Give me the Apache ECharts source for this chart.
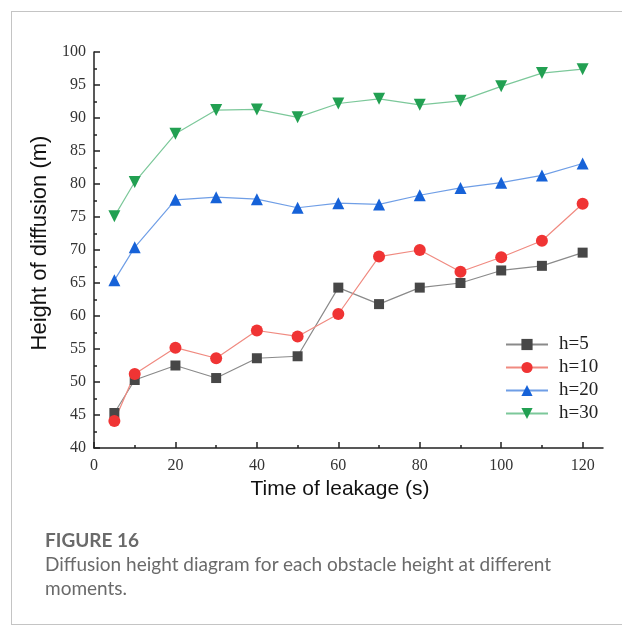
<!DOCTYPE html>
<html>
<head>
<meta charset="utf-8">
<script src="https://cdn.jsdelivr.net/npm/echarts@6/dist/echarts.min.js"></script>
<style>
  html, body { margin: 0; padding: 0; background: #fff; }
  #wrap { position: relative; width: 622px; height: 626px; overflow: hidden; }
  #frame { position: absolute; left: 11px; top: 11px; width: 640px; height: 614px;
           border: 1px solid #c4c4c4; box-sizing: border-box; }
  #chart { position: absolute; left: 0; top: 0; width: 622px; height: 626px; }
  #caption { position: absolute; left: 45px; top: 528px; width: 540px;
             font-family: Lato, "Open Sans", sans-serif; color: #6a6a6a; }
  #caption .fig { font-size: 19px; font-weight: 700; line-height: 24px; }
  #caption .txt { font-size: 19px; line-height: 24px; }
</style>
</head>
<body>
<div id="wrap">
  <div id="frame"></div>
  <div id="chart"></div>
  <div id="caption">
    <div class="fig">FIGURE 16</div>
    <div class="txt">Diffusion height diagram for each obstacle height at different<br>moments.</div>
  </div>
</div>
<script>
// Leakage time (s)
const times = [5, 10, 20, 30, 40, 50, 60, 70, 80, 90, 100, 110, 120];

// Diffusion height (m) for each obstacle height h
const h5  = [45.3, 50.3, 52.5, 50.6, 53.6, 53.9, 64.3, 61.8, 64.3, 65.0, 66.9, 67.6, 69.6];
const h10 = [44.1, 51.2, 55.2, 53.6, 57.8, 56.9, 60.3, 69.0, 70.0, 66.7, 68.9, 71.4, 77.0];
const h20 = [65.4, 70.4, 77.6, 78.0, 77.7, 76.4, 77.1, 76.9, 78.3, 79.4, 80.2, 81.3, 83.1];
const h30 = [75.1, 80.3, 87.6, 91.2, 91.3, 90.1, 92.2, 92.9, 92.0, 92.6, 94.8, 96.8, 97.4];

const seriesNames = ['h=5', 'h=10', 'h=20', 'h=30'];

// Axis tick positions
const xMajorTicks = [0, 20, 40, 60, 80, 100, 120];
const xMinorTicks = [10, 30, 50, 70, 90, 110];

const pair = (ys) => times.map((t, i) => [t, ys[i]]);

const serifFont = '"Liberation Serif", "DejaVu Serif", serif';
const sansFont = '"Liberation Sans", Arial, sans-serif';

const chart = echarts.init(document.getElementById('chart'), null, { renderer: 'canvas' });

function lineSeries(name, data, color, lineColor, symbol, size, rotate) {
  return {
    name: name,
    type: 'line',
    data: pair(data),
    symbol: symbol,
    symbolSize: size,
    symbolRotate: rotate || 0,
    itemStyle: { color: color },
    lineStyle: { color: lineColor, width: 1.2 },
    emphasis: { disabled: true },
    animation: false
  };
}

chart.setOption({
  backgroundColor: 'transparent',
  grid: { left: 94, top: 52, right: 19, bottom: 178, containLabel: false },
  legend: {
    left: 500,
    top: 330,
    orient: 'vertical',
    itemWidth: 42,
    itemHeight: 14,
    itemGap: 4,
    textStyle: { fontFamily: serifFont, fontSize: 19, color: '#222', padding: [0, 0, 0, 6] },
    data: seriesNames
  },
  xAxis: [
    {
      type: 'value',
      min: 0,
      max: 125,
      name: 'Time of leakage (s)',
      nameLocation: 'middle',
      nameGap: 31,
      nameTextStyle: { fontFamily: sansFont, fontSize: 21, color: '#111', padding: [0, 17, 0, 0] },
      axisLine: { show: true, lineStyle: { color: '#222', width: 1.5 } },
      axisTick: { show: true, inside: true, length: 6, customValues: xMajorTicks,
                  lineStyle: { color: '#222', width: 1.5 } },
      axisLabel: { customValues: xMajorTicks, margin: 10,
                   fontFamily: serifFont, fontSize: 16, color: '#333' },
      splitLine: { show: false }
    },
    {
      type: 'value',
      min: 0,
      max: 125,
      position: 'bottom',
      axisLine: { show: false },
      axisTick: { show: true, inside: true, length: 3, customValues: xMinorTicks,
                  lineStyle: { color: '#222', width: 1.5 } },
      axisLabel: { show: false },
      splitLine: { show: false }
    }
  ],
  yAxis: {
    type: 'value',
    min: 40,
    max: 100,
    interval: 5,
    name: 'Height of diffusion (m)',
    nameLocation: 'middle',
    nameGap: 42,
    nameTextStyle: { fontFamily: sansFont, fontSize: 22, color: '#111', padding: [0, 0, 0, 14] },
    axisLine: { show: true, lineStyle: { color: '#222', width: 1.5 } },
    axisTick: { show: true, inside: true, length: 6, lineStyle: { color: '#222', width: 1.5 } },
    minorTick: { show: true, splitNumber: 2, length: 3, lineStyle: { color: '#222', width: 1.5 } },
    axisLabel: { margin: 8, fontFamily: serifFont, fontSize: 16, color: '#333' },
    splitLine: { show: false },
    minorSplitLine: { show: false }
  },
  series: [
    lineSeries('h=5',  h5,  '#474747', '#8a8a8a', 'rect', 10),
    lineSeries('h=10', h10, '#f03434', '#f08a80', 'circle', 12),
    lineSeries('h=20', h20, '#1662d8', '#6f9ee6', 'triangle', 12),
    lineSeries('h=30', h30, '#22a052', '#7cc89a', 'triangle', 12, 180)
  ]
});
</script>
</body>
</html>
